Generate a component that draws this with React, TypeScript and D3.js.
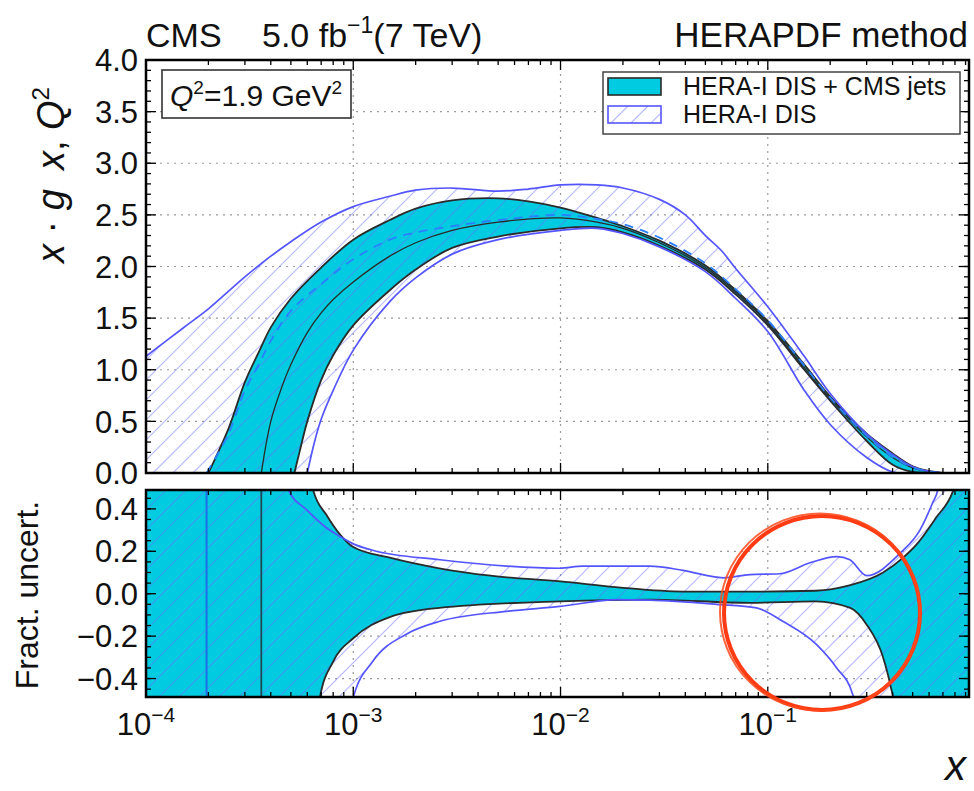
import React from "react";
import * as d3 from "d3";

// ---------- data ----------
// upper panel: x·g(x, Q²)
const cmsUpX = [2e-4, 2.5e-4, 3e-4, 3.5e-4, 4e-4, 5e-4, 7e-4, 1e-3, 1.5e-3, 2e-3, 3e-3, 5e-3, 7e-3, 1e-2, 1.5e-2, 2e-2, 3e-2, 5e-2, 7e-2, 0.1, 0.15, 0.2, 0.3, 0.4, 0.5, 0.6, 0.7];
const cmsUpY = [0, 0.43, 0.88, 1.17, 1.41, 1.69, 1.99, 2.26, 2.45, 2.56, 2.64, 2.66, 2.63, 2.57, 2.47, 2.39, 2.25, 2.01, 1.77, 1.47, 1.05, 0.74, 0.38, 0.19, 0.065, 0.02, 0];
const cmsCenX = [3.6e-4, 4e-4, 4.5e-4, 5e-4, 6e-4, 7e-4, 8e-4, 1e-3, 1.5e-3, 2e-3, 3e-3, 5e-3, 1e-2, 1.5e-2, 2e-2, 3e-2, 5e-2, 7e-2, 0.1, 0.15, 0.2, 0.3, 0.4, 0.5, 0.6, 0.7];
const cmsCenY = [0, 0.5, 0.82, 1.05, 1.36, 1.55, 1.68, 1.85, 2.1, 2.23, 2.35, 2.43, 2.47, 2.43, 2.37, 2.23, 1.99, 1.75, 1.45, 1.02, 0.72, 0.35, 0.15, 0.05, 0.015, 0];
const cmsLoX = [5.2e-4, 5.5e-4, 6e-4, 7e-4, 8e-4, 1e-3, 1.5e-3, 2e-3, 3e-3, 5e-3, 1e-2, 1.5e-2, 2e-2, 3e-2, 5e-2, 7e-2, 0.1, 0.15, 0.2, 0.3, 0.4, 0.5, 0.6, 0.7];
const cmsLoY = [0, 0.2, 0.5, 0.9, 1.14, 1.43, 1.77, 1.97, 2.18, 2.29, 2.37, 2.38, 2.33, 2.2, 1.97, 1.73, 1.43, 1.0, 0.7, 0.31, 0.08, 0.01, 0.003, 0];
const heraUpX = [1e-4, 1.5e-4, 2e-4, 3e-4, 4e-4, 5e-4, 7e-4, 1e-3, 1.5e-3, 2e-3, 3e-3, 5e-3, 7e-3, 1e-2, 1.5e-2, 2e-2, 3e-2, 4e-2, 5e-2, 6e-2, 7e-2, 0.1, 0.15, 0.2, 0.3, 0.4, 0.5, 0.6, 0.7];
const heraUpY = [1.13, 1.4, 1.59, 1.9, 2.1, 2.24, 2.43, 2.58, 2.68, 2.74, 2.76, 2.73, 2.75, 2.79, 2.79, 2.76, 2.65, 2.5, 2.3, 2.15, 1.98, 1.61, 1.13, 0.77, 0.38, 0.18, 0.06, 0.015, 0];
const heraLoX = [6e-4, 6.5e-4, 7e-4, 8e-4, 1e-3, 1.5e-3, 2e-3, 3e-3, 5e-3, 1e-2, 1.5e-2, 2e-2, 3e-2, 5e-2, 7e-2, 0.1, 0.15, 0.2, 0.3, 0.4, 0.45];
const heraLoY = [0, 0.3, 0.52, 0.8, 1.19, 1.66, 1.89, 2.12, 2.26, 2.35, 2.37, 2.32, 2.19, 1.95, 1.69, 1.37, 0.8, 0.47, 0.15, 0.01, 0];
const heraCenX = [1.96e-4, 2.5e-4, 3e-4, 3.5e-4, 4e-4, 5e-4, 7e-4, 1e-3, 1.5e-3, 2e-3, 3e-3, 5e-3, 1e-2, 1.5e-2, 2e-2, 3e-2, 5e-2, 7e-2, 0.1, 0.15, 0.2, 0.3, 0.4, 0.5, 0.6, 0.7];
const heraCenY = [0, 0.38, 0.8, 1.05, 1.28, 1.57, 1.83, 2.07, 2.26, 2.33, 2.39, 2.45, 2.5, 2.46, 2.41, 2.28, 2.03, 1.78, 1.48, 1.04, 0.73, 0.36, 0.155, 0.055, 0.015, 0];

// lower panel: fractional uncertainty
const cmsFracUpX = [1e-4, 5.6e-4, 6e-4, 6.4e-4, 7.44e-4, 8.62e-4, 1e-3, 1.5e-3, 2.6e-3, 4.6e-3, 1e-2, 1.9e-2, 3.9e-2, 8.2e-2, 0.17, 0.25, 0.36, 0.45, 0.52, 0.65, 0.78, 0.85, 0.935];
const cmsFracUpY = [1.5, 1.5, 0.8, 0.49, 0.37, 0.28, 0.22, 0.17, 0.12, 0.085, 0.058, 0.03, 0.01, 0.01, 0.014, 0.04, 0.1, 0.17, 0.23, 0.36, 0.48, 0.6, 1.5];
const cmsFracLoX = [1e-4, 6.3e-4, 6.6e-4, 6.9e-4, 8e-4, 1e-3, 1.5e-3, 2.6e-3, 1e-2, 2.7e-2, 8.2e-2, 0.17, 0.25, 0.3, 0.36, 0.39, 0.41, 0.43, 0.935];
const cmsFracLoY = [-1.5, -1.5, -0.8, -0.49, -0.32, -0.21, -0.11, -0.067, -0.036, -0.028, -0.043, -0.036, -0.067, -0.146, -0.3, -0.43, -0.55, -1.5, -1.5];
const heraFracUpX = [1e-4, 3.6e-4, 4.2e-4, 4.86e-4, 5.96e-4, 7.44e-4, 8.62e-4, 1e-3, 1.24e-3, 2.62e-3, 5.5e-3, 9.9e-3, 1.28e-2, 2.7e-2, 3.9e-2, 6.1e-2, 8.2e-2, 0.114, 0.16, 0.215, 0.249, 0.3, 0.434, 0.542, 0.625, 0.661, 0.72, 0.935];
const heraFracUpY = [1.5, 1.5, 0.75, 0.49, 0.395, 0.31, 0.27, 0.235, 0.205, 0.16, 0.13, 0.12, 0.13, 0.13, 0.11, 0.075, 0.09, 0.094, 0.146, 0.175, 0.16, 0.085, 0.19, 0.3, 0.43, 0.49, 0.8, 1.5];
const heraFracLoX = [1e-4, 8.8e-4, 1e-3, 1.24e-3, 1.81e-3, 2.62e-3, 5.5e-3, 9.9e-3, 1.87e-2, 2.7e-2, 5.66e-2, 8.83e-2, 0.118, 0.172, 0.215, 0.257, 0.266, 0.29, 0.935];
const heraFracLoY = [-1.5, -1.5, -0.49, -0.32, -0.19, -0.13, -0.083, -0.06, -0.028, -0.03, -0.05, -0.067, -0.13, -0.24, -0.35, -0.475, -0.55, -1.5, -1.5];

// axes
const xDecades = [1e-4, 1e-3, 1e-2, 1e-1];
const xDecadeExp = ["\u22124", "\u22123", "\u22122", "\u22121"];
const yUpperTicks = [0, 0.5, 1, 1.5, 2, 2.5, 3, 3.5, 4];
const yUpperLabels = ["0.0", "0.5", "1.0", "1.5", "2.0", "2.5", "3.0", "3.5", "4.0"];
const yLowerTicks = [-0.4, -0.2, 0, 0.2, 0.4];
const yLowerLabels = ["\u22120.4", "\u22120.2", "0.0", "0.2", "0.4"];
const legendLabels = ["HERA-I DIS + CMS jets", "HERA-I DIS"];

const CYAN = "#00cbe0";
const BLUE = "#5555ff";
const HATCH = "#7070ff";
const DARK = "#2a2a2a";
const FONT = "'Liberation Sans', Arial, Helvetica, sans-serif";
const HATCH_STEP = 20;

type P = [number, number];
const zip = (xs: number[], ys: number[]): P[] => xs.map((v, i) => [v, ys[i]] as P);

// diagonal "/" hatch lines covering a rectangle, clipped to a band
function Hatch({ x0, y0, w, h, clip }: { x0: number; y0: number; w: number; h: number; clip: string }) {
  const starts = d3.range(x0 - h, x0 + w + HATCH_STEP, HATCH_STEP);
  return (
    <g clipPath={`url(#${clip})`}>
      {starts.map((s, i) => (
        <line key={i} x1={s} y1={y0 + h} x2={s + h} y2={y0} stroke={HATCH} strokeWidth={1.1} strokeOpacity={0.5} />
      ))}
    </g>
  );
}

export default function App() {
  const L = 146, R = 969;
  const upTop = 60, upBot = 473, loTop = 490, loBot = 697;
  const x = d3.scaleLog().domain([1e-4, 0.935]).range([L, R]);
  const yU = d3.scaleLinear().domain([0, 4]).range([upBot, upTop]);
  const yL = d3.scaleLinear().domain([-0.487, 0.489]).range([loBot, loTop]);

  const lineU = d3.line<P>().x((d) => x(d[0])).y((d) => yU(d[1])).curve(d3.curveCatmullRom.alpha(0.5));
  const lineL = d3.line<P>().x((d) => x(d[0])).y((d) => yL(d[1])).curve(d3.curveMonotoneX);

  const band = (ln: d3.Line<P>, up: P[], lo: P[], extra = "") => {
    const a = ln(up) || "";
    const b = ln(lo.slice().reverse()) || "";
    return a + "L" + b.slice(1) + extra + "Z";
  };

  const cmsUp = zip(cmsUpX, cmsUpY), cmsLo = zip(cmsLoX, cmsLoY), cmsCen = zip(cmsCenX, cmsCenY);
  const heraUp = zip(heraUpX, heraUpY), heraLo = zip(heraLoX, heraLoY), heraCen = zip(heraCenX, heraCenY);
  const cFU = zip(cmsFracUpX, cmsFracUpY), cFL = zip(cmsFracLoX, cmsFracLoY);
  const hFU = zip(heraFracUpX, heraFracUpY), hFL = zip(heraFracLoX, heraFracLoY);

  const cmsBandU = band(lineU, cmsUp, cmsLo);
  const heraBandU = band(lineU, heraUp, heraLo, `L${x(1e-4)},${yU(0)}`);
  const cmsBandL = band(lineL, cFU, cFL);
  const heraBandL = band(lineL, hFU, hFL);

  const xMinor: number[] = [];
  [-4, -3, -2, -1].forEach((d) => {
    for (let k = 2; k <= 9; k++) {
      const v = k * Math.pow(10, d);
      if (v < 0.935) xMinor.push(v);
    }
  });
  const yUMinor = d3.range(0, 4.001, 0.1);
  const yLMinor = d3.range(-0.45, 0.46, 0.05);

  const gridStyle = { stroke: "#9a9a9a", strokeWidth: 1.2, strokeDasharray: "2,5" };

  const xTicks = (top: number, bot: number) => (
    <g stroke="#000" strokeWidth={1.3}>
      {xDecades.slice(1).map((v, i) => (
        <g key={"M" + i}>
          <line x1={x(v)} x2={x(v)} y1={bot} y2={bot - 10} />
          <line x1={x(v)} x2={x(v)} y1={top} y2={top + 10} />
        </g>
      ))}
      {xMinor.map((v, i) => (
        <g key={"m" + i}>
          <line x1={x(v)} x2={x(v)} y1={bot} y2={bot - 5} />
          <line x1={x(v)} x2={x(v)} y1={top} y2={top + 5} />
        </g>
      ))}
    </g>
  );

  const yTicks = (scale: d3.ScaleLinear<number, number>, majors: number[], minors: number[]) => (
    <g stroke="#000" strokeWidth={1.3}>
      {majors.map((v, i) => (
        <g key={"M" + i}>
          <line x1={L} x2={L + 10} y1={scale(v)} y2={scale(v)} />
          <line x1={R} x2={R - 10} y1={scale(v)} y2={scale(v)} />
        </g>
      ))}
      {minors.map((v, i) => (
        <g key={"m" + i}>
          <line x1={L} x2={L + 5} y1={scale(v)} y2={scale(v)} />
          <line x1={R} x2={R - 5} y1={scale(v)} y2={scale(v)} />
        </g>
      ))}
    </g>
  );

  return (
    <svg
      width={974}
      height={791}
      style={{ position: "absolute", left: 0, top: 0, background: "#fff" }}
      fontFamily={FONT}
    >
      <defs>
        <clipPath id="clipU">
          <rect x={L} y={upTop} width={R - L} height={upBot - upTop} />
        </clipPath>
        <clipPath id="clipL">
          <rect x={L} y={loTop} width={R - L} height={loBot - loTop} />
        </clipPath>
        <clipPath id="heraClipU">
          <path d={heraBandU} />
        </clipPath>
        <clipPath id="heraClipL">
          <path d={heraBandL} />
        </clipPath>
        <clipPath id="legClip">
          <rect x={608} y={106} width={53} height={17} />
        </clipPath>
      </defs>
      <rect x={0} y={0} width={974} height={791} fill="#fff" />

      {/* header */}
      <text x={146} y={47} fontSize={34} fill="#111">CMS</text>
      <text x={262} y={47} fontSize={34} fill="#111">
        5.0 fb<tspan dy={-14} fontSize={23}>{"\u22121"}</tspan>
        <tspan dy={14}>(7 TeV)</tspan>
      </text>
      <text x={968} y={47} fontSize={35} textAnchor="end" fill="#111">HERAPDF method</text>

      {/* ===== upper panel ===== */}
      <g>
        {[0.5, 1, 1.5, 2, 2.5, 3, 3.5].map((v) => (
          <line key={v} x1={L} x2={R} y1={yU(v)} y2={yU(v)} style={gridStyle} />
        ))}
        {xDecades.slice(1).map((v) => (
          <line key={v} x1={x(v)} x2={x(v)} y1={upTop} y2={upBot} style={gridStyle} />
        ))}
        <g clipPath="url(#clipU)">
          <path d={cmsBandU} fill={CYAN} />
          <Hatch x0={L} y0={upTop} w={R - L} h={upBot - upTop} clip="heraClipU" />
          <path d={lineU(cmsUp) || ""} fill="none" stroke={DARK} strokeWidth={1.8} />
          <path d={lineU(cmsLo) || ""} fill="none" stroke={DARK} strokeWidth={1.8} />
          <path d={lineU(cmsCen) || ""} fill="none" stroke={DARK} strokeWidth={1.3} />
          <path d={lineU(heraUp) || ""} fill="none" stroke={BLUE} strokeWidth={1.7} />
          <path d={lineU(heraLo) || ""} fill="none" stroke={BLUE} strokeWidth={1.7} />
          <path d={lineU(heraCen) || ""} fill="none" stroke="#2a7fff" strokeWidth={1.8} strokeDasharray="9,7" />
        </g>
        {xTicks(upTop, upBot)}
        {yTicks(yU, yUpperTicks, yUMinor)}
        <rect x={L} y={upTop} width={R - L} height={upBot - upTop} fill="none" stroke="#000" strokeWidth={2.5} />
        {yUpperTicks.map((v, i) => (
          <text key={v} x={138} y={yU(v)} dy="0.36em" fontSize={31} textAnchor="end" fill="#111">
            {yUpperLabels[i]}
          </text>
        ))}
      </g>

      {/* Q² box */}
      <rect x={162} y={70} width={189} height={48} fill="#fff" stroke="#333" strokeWidth={1.6} />
      <text x={170} y={106} fontSize={30} fill="#111">
        <tspan fontStyle="italic">Q</tspan>
        <tspan dy={-12} fontSize={19}>2</tspan>
        <tspan dy={12}>=1.9 GeV</tspan>
        <tspan dy={-12} fontSize={19}>2</tspan>
      </text>

      {/* legend */}
      <rect x={603} y={72} width={357} height={62} fill="#fff" stroke="#444" strokeWidth={1.5} />
      <rect x={608} y={78} width={53} height={17} fill={CYAN} stroke={DARK} strokeWidth={1.6} />
      <Hatch x0={608} y0={106} w={53} h={17} clip="legClip" />
      <rect x={608} y={106} width={53} height={17} fill="none" stroke={BLUE} strokeWidth={1.6} />
      <text x={683} y={95} fontSize={25} fill="#111">{legendLabels[0]}</text>
      <text x={683} y={123} fontSize={25} fill="#111">{legendLabels[1]}</text>

      {/* ===== lower panel ===== */}
      <g>
        {yLowerTicks.map((v) => (
          <line key={v} x1={L} x2={R} y1={yL(v)} y2={yL(v)} style={gridStyle} />
        ))}
        {xDecades.slice(1).map((v) => (
          <line key={v} x1={x(v)} x2={x(v)} y1={loTop} y2={loBot} style={gridStyle} />
        ))}
        <g clipPath="url(#clipL)">
          <path d={cmsBandL} fill={CYAN} />
          <Hatch x0={L} y0={loTop} w={R - L} h={loBot - loTop} clip="heraClipL" />
          <path d={lineL(cFU) || ""} fill="none" stroke={DARK} strokeWidth={1.8} />
          <path d={lineL(cFL) || ""} fill="none" stroke={DARK} strokeWidth={1.8} />
          <path d={lineL(hFU) || ""} fill="none" stroke={BLUE} strokeWidth={1.7} />
          <path d={lineL(hFL) || ""} fill="none" stroke={BLUE} strokeWidth={1.7} />
          <line x1={x(heraCenX[0])} x2={x(heraCenX[0])} y1={loTop} y2={loBot} stroke="#1f6fe8" strokeWidth={2} />
          <line x1={x(cmsCenX[0])} x2={x(cmsCenX[0])} y1={loTop} y2={loBot} stroke="#1c4a55" strokeWidth={1.8} />
        </g>
        {xTicks(loTop, loBot)}
        {yTicks(yL, yLowerTicks, yLMinor)}
        <rect x={L} y={loTop} width={R - L} height={loBot - loTop} fill="none" stroke="#000" strokeWidth={2.5} />
        {yLowerTicks.map((v, i) => (
          <text key={v} x={138} y={yL(v)} dy="0.36em" fontSize={31} textAnchor="end" fill="#111">
            {yLowerLabels[i]}
          </text>
        ))}
      </g>

      {/* x tick labels */}
      {xDecades.map((v, i) => (
        <text key={v} x={x(v)} y={735} fontSize={31} textAnchor="middle" fill="#111">
          10<tspan dy={-13} fontSize={21}>{xDecadeExp[i]}</tspan>
        </text>
      ))}

      {/* axis titles */}
      <text x={966} y={780} fontSize={42} fontStyle="italic" textAnchor="end" fill="#111">x</text>
      <text transform="translate(64,175) rotate(-90)" fontSize={38} textAnchor="middle" fill="#111">
        <tspan fontStyle="italic">x</tspan> {"\u00b7"} <tspan fontStyle="italic">g</tspan>{"\u2002"}
        <tspan fontStyle="italic">x</tspan>, <tspan fontStyle="italic">Q</tspan>
        <tspan dy={-15} fontSize={24}>2</tspan>
      </text>
      <text transform="translate(38,595) rotate(-90)" fontSize={32} textAnchor="middle" fill="#111">
        Fract. uncert.
      </text>

      {/* hand-drawn annotation circle */}
      <ellipse cx={822} cy={613} rx={98} ry={97} fill="none" stroke="#ff3b14" strokeWidth={4} />
      <ellipse cx={820} cy={612} rx={100} ry={98.5} fill="none" stroke="#ff4a1c" strokeWidth={2} strokeOpacity={0.85} />
    </svg>
  );
}
